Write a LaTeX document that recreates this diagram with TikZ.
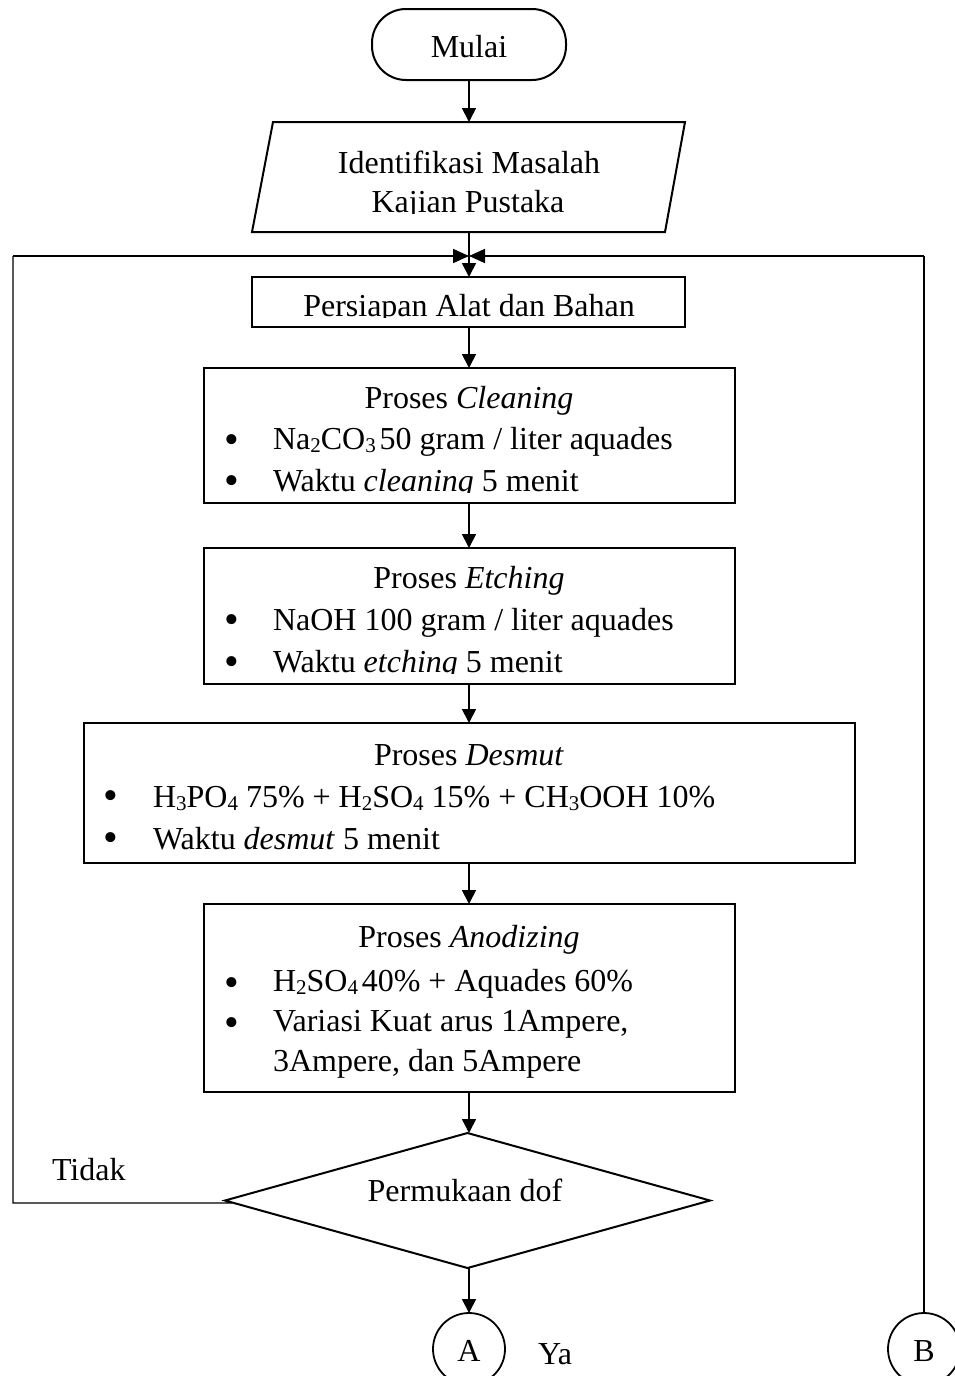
\documentclass[tikz,border=0pt]{standalone}
\usepackage{fontspec}
\setmainfont{Liberation Serif}
\usetikzlibrary{arrows.meta,shapes.geometric}
\newcommand{\chemsub}[1]{\raisebox{-0.1em}{\fontsize{10.5}{12}\selectfont #1}}
\begin{document}
\begin{tikzpicture}[x=0.5pt,y=-0.5pt,
  every node/.style={font=\fontsize{16}{20}\selectfont, inner sep=0pt, outer sep=0pt},
  box/.style={draw, line width=1pt, rectangle, anchor=center},
  arr/.style={-{Triangle[length=7pt,width=7pt]}, line width=0.9pt},
  loopline/.style={line width=0.6pt},
  mergearr/.style={-{Triangle[length=8pt,width=7pt]}, line width=0.9pt},
  ttl/.style={anchor=base},
  itm/.style={anchor=base west},
  bul/.style={anchor=base, font=\fontsize{21}{22}\selectfont},
  lbl/.style={anchor=base west},
]
\useasboundingbox (0,0) rectangle (954,1376);

% Start
\node (start) [draw, line width=1pt, rounded corners=17pt, minimum width=97pt, minimum height=35.5pt] at (469,44.5) {};
\node (starttxt) [ttl] at (469,57) {Mulai};

% Parallelogram
\node (ident) [minimum width=206pt, minimum height=55pt] at (468.5,177) {};
\draw[line width=1pt] (273,122) -- (685,122) -- (665,232) -- (252,232) -- cycle;
\node (identa) [ttl] at (469,173) {Identifikasi Masalah};
\begin{scope}
  \clip (252,180) rectangle (685,213);
  \node (identb) [ttl] at (468,212) {Kajian Pustaka};
\end{scope}

% Persiapan
\node (prep) [box, minimum width=216.5pt, minimum height=25pt] at (468.5,302) {};
\begin{scope}
  \clip (252,277) rectangle (685,317);
  \node (preptxt) [ttl] at (469,316) {Persiapan Alat dan Bahan};
\end{scope}

% Cleaning
\node (clean) [box, minimum width=265.5pt, minimum height=67.5pt] at (469.5,435.5) {};
\node (cleant) [ttl] at (469,408) {Proses \textit{Cleaning}};
\node (cleanb1) [bul] at (232,453) {•};
\node (cleani1) [itm] at (273,449) {Na\chemsub{2}CO\chemsub{3}\hspace{0.12em}50 gram / liter aquades};
\node (cleanb2) [bul] at (232,494) {•};
\begin{scope}
  \clip (250,460) rectangle (735,492.5);
  \node (cleani2) [itm] at (273,491) {Waktu \textit{cleaning} 5 menit};
\end{scope}

% Etching
\node (etch) [box, minimum width=265.5pt, minimum height=68pt] at (469.5,616) {};
\node (etcht) [ttl] at (469,588) {Proses \textit{Etching}};
\node (etchb1) [bul] at (232,633) {•};
\node (etchi1) [itm] at (273,630) {NaOH 100 gram / liter aquades};
\node (etchb2) [bul] at (232,675) {•};
\begin{scope}
  \clip (250,640) rectangle (735,673.5);
  \node (etchi2) [itm] at (273,672) {Waktu \textit{etching} 5 menit};
\end{scope}

% Desmut
\node (desmut) [box, minimum width=385.5pt, minimum height=70pt] at (469.5,793) {};
\node (desmutt) [ttl] at (469,765) {Proses \textit{Desmut}};
\node (desmutb1) [bul] at (111,809) {•};
\node (desmuti1) [itm] at (153,807) {H\chemsub{3}PO\chemsub{4} 75\% + H\chemsub{2}SO\chemsub{4} 15\% + CH\chemsub{3}OOH 10\%};
\node (desmutb2) [bul] at (111,851) {•};
\node (desmuti2) [itm] at (153,849) {Waktu \textit{desmut} 5 menit};

% Anodizing
\node (anod) [box, minimum width=265.5pt, minimum height=94pt] at (469.5,998) {};
\node (anodt) [ttl] at (469,947) {Proses \textit{Anodizing}};
\node (anodb1) [bul] at (232,996) {•};
\node (anodi1) [itm] at (273,991) {H\chemsub{2}SO\chemsub{4}\hspace{0.12em}40\% + Aquades 60\%};
\node (anodb2) [bul] at (232,1036) {•};
\node (anodi2) [itm] at (273,1031) {Variasi Kuat arus 1Ampere,};
\node (anodi3) [itm] at (273,1071) {3Ampere, dan 5Ampere};

% Decision
\node (dof) [draw, diamond, line width=1pt, minimum width=242.5pt, minimum height=67.5pt] at (467.5,1200.5) {};
\node (doft) [ttl] at (465,1201) {Permukaan dof};

% Connectors
\node (A) [draw, circle, line width=0.9pt, minimum size=36pt] at (469,1349) {};
\node (Atxt) [ttl] at (469,1361) {A};
\node (B) [draw, circle, line width=0.9pt, minimum size=36pt] at (924,1349) {};
\node (Btxt) [ttl] at (924,1361) {B};

\node (tidak) [lbl] at (52,1180) {Tidak};
\node (ya) [lbl] at (538,1364) {Ya};

% Arrows
\coordinate (m) at (469,256);
\coordinate (lc) at (13,1203);
\coordinate (rc) at (924,256);
\draw[arr] (start.south) -- (469,122);
\draw[arr] (469,232) -- (prep.north -| 469,0);
\draw[arr] (prep.south -| 469,0) -- (clean.north -| 469,0);
\draw[arr] (clean.south -| 469,0) -- (etch.north -| 469,0);
\draw[arr] (etch.south -| 469,0) -- (desmut.north -| 469,0);
\draw[arr] (desmut.south -| 469,0) -- (anod.north -| 469,0);
\draw[arr] (anod.south -| 469,0) -- (dof.north -| 469,0);
\draw[arr] (dof.south -| 469,0) -- (A.north);

\draw[loopline] (dof.west) -- (230,1203) -- (lc) -- (13,256);
\draw[mergearr] (13,256) -- (m);
\draw[loopline] (B.north) -- (rc);
\draw[mergearr] (rc) -- (m);
\end{tikzpicture}
\end{document}
